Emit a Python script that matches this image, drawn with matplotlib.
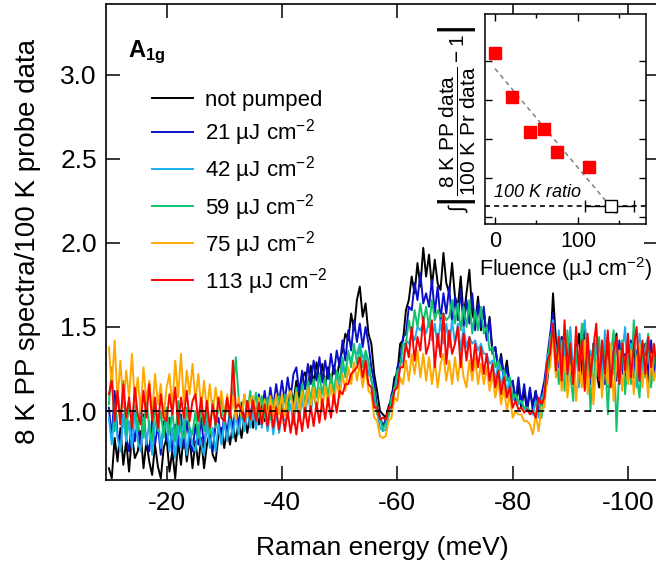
import numpy as np
import matplotlib
matplotlib.use('Agg')
import matplotlib.pyplot as plt

plt.rcParams['font.family'] = ['Liberation Sans', 'DejaVu Sans']
plt.rcParams['mathtext.fontset'] = 'custom'
plt.rcParams['mathtext.rm'] = 'Liberation Sans'
plt.rcParams['mathtext.it'] = 'Liberation Sans:italic'
plt.rcParams['mathtext.bf'] = 'Liberation Sans:bold'
plt.rcParams['axes.unicode_minus'] = False

# ---------------- data ----------------
energy = np.linspace(-10, -105, 191)  # Raman energy grid (meV), 0.5 meV steps

not_pumped = [
    0.66, 0.60, 0.84, 0.70, 0.90, 0.68, 0.82, 0.64, 0.86, 0.72,
    0.76, 0.88, 0.66, 0.82, 0.70, 0.62, 0.80, 0.67, 0.60, 0.78,
    0.84, 0.64, 0.76, 0.60, 0.82, 0.68, 0.88, 0.70, 0.84, 0.66,
    0.82, 0.68, 0.84, 0.66, 0.80, 0.88, 0.74, 0.70, 0.86, 0.90,
    0.78, 0.90, 0.80, 0.92, 0.82, 0.94, 0.84, 0.97, 0.87, 0.99,
    0.90, 1.01, 0.92, 1.03, 0.94, 1.06, 0.96, 1.07, 0.98, 1.09,
    1.00, 1.10, 1.01, 1.13, 1.05, 1.18, 1.08, 1.20, 1.23, 1.13,
    1.27, 1.16, 1.29, 1.18, 1.28, 1.15, 1.26, 1.17, 1.27, 1.19,
    1.30, 1.36, 1.46, 1.42, 1.58, 1.48, 1.66, 1.74, 1.56, 1.64,
    1.46, 1.40, 1.22, 1.12, 1.00, 0.98, 0.96, 1.03, 1.07, 1.20,
    1.22, 1.40, 1.42, 1.60, 1.66, 1.80, 1.70, 1.88, 1.74, 1.97,
    1.80, 1.93, 1.74, 1.90, 1.76, 1.72, 1.94, 1.76, 1.70, 1.88,
    1.68, 1.62, 1.80, 1.56, 1.70, 1.84, 1.58, 1.52, 1.68, 1.48,
    1.60, 1.44, 1.56, 1.36, 1.38, 1.24, 1.34, 1.20, 1.30, 1.16,
    1.18, 1.06, 1.14, 1.02, 1.12, 1.00, 1.12, 1.03, 1.12, 1.02,
    1.08, 1.10, 1.18, 1.35, 1.70, 1.42, 1.26, 1.44, 1.22, 1.38,
    1.40, 1.16, 1.34, 1.46, 1.21, 1.52, 1.28, 1.18, 1.40, 1.24,
    1.14, 1.36, 1.22, 1.44, 1.18, 1.32, 1.46, 1.20, 1.34, 1.16,
    1.38, 1.22, 1.44, 1.18, 1.34, 1.24, 1.40, 1.16, 1.36, 1.28,
    1.24]

f21 = [
    1.02, 0.84, 1.12, 0.86, 0.78, 0.98, 0.84, 0.76, 0.96, 0.82,
    0.94, 0.78, 0.98, 0.82, 0.76, 0.95, 0.80, 0.92, 0.74, 0.94,
    0.82, 0.96, 0.76, 0.92, 0.80, 0.98, 0.78, 0.94, 0.82, 0.76,
    0.92, 0.80, 0.96, 0.78, 0.94, 0.82, 0.76, 0.92, 0.96, 0.82,
    0.98, 0.86, 1.01, 0.89, 1.03, 0.91, 1.05, 0.93, 1.06, 0.96,
    1.08, 0.95, 1.10, 0.98, 1.12, 1.00, 1.14, 1.02, 1.16, 1.05,
    1.18, 1.06, 1.20, 1.08, 1.22, 1.26, 1.11, 1.24, 1.13, 1.28,
    1.16, 1.30, 1.18, 1.32, 1.17, 1.30, 1.19, 1.34, 1.22, 1.36,
    1.26, 1.42, 1.30, 1.48, 1.36, 1.54, 1.41, 1.52, 1.38, 1.50,
    1.40, 1.26, 1.17, 1.02, 0.97, 0.91, 0.95, 0.99, 1.10, 1.14,
    1.26, 1.30, 1.44, 1.46, 1.62, 1.60, 1.76, 1.66, 1.82, 1.64,
    1.70, 1.62, 1.78, 1.58, 1.74, 1.54, 1.70, 1.58, 1.74, 1.52,
    1.68, 1.54, 1.72, 1.50, 1.66, 1.52, 1.70, 1.48, 1.64, 1.50,
    1.62, 1.42, 1.54, 1.34, 1.38, 1.24, 1.32, 1.18, 1.26, 1.14,
    1.18, 1.06, 1.20, 1.04, 1.16, 1.02, 1.14, 1.00, 1.12, 0.98,
    1.10, 1.18, 1.32, 1.46, 1.58, 1.34, 1.26, 1.44, 1.20, 1.38,
    1.28, 1.18, 1.42, 1.24, 1.48, 1.20, 1.36, 1.16, 1.40, 1.26,
    1.20, 1.38, 1.16, 1.44, 1.24, 1.36, 1.18, 1.42, 1.22, 1.34,
    1.24, 1.42, 1.20, 1.36, 1.18, 1.40, 1.26, 1.22, 1.42, 1.20,
    1.34]

f42 = [
    0.96, 0.80, 1.02, 0.84, 0.76, 0.98, 0.82, 0.94, 0.78, 1.00,
    0.82, 0.76, 0.96, 0.80, 0.94, 0.74, 0.92, 0.98, 0.78, 0.90,
    0.94, 0.76, 0.90, 0.72, 0.92, 0.78, 0.96, 0.74, 0.90, 0.80,
    0.76, 0.92, 0.80, 0.74, 0.94, 0.78, 0.90, 0.76, 0.92, 0.80,
    0.94, 0.82, 0.96, 0.84, 0.99, 0.86, 1.00, 0.88, 1.02, 0.90,
    1.01, 0.89, 1.03, 0.90, 1.02, 0.88, 1.00, 0.86, 0.99, 0.87,
    0.98, 0.94, 0.97, 1.04, 0.92, 1.06, 0.94, 1.08, 0.96, 1.10,
    0.99, 1.12, 1.01, 1.14, 1.03, 1.16, 1.05, 1.18, 1.08, 1.22,
    1.12, 1.26, 1.22, 1.34, 1.30, 1.36, 1.34, 1.40, 1.32, 1.34,
    1.22, 1.20, 1.06, 1.00, 0.90, 0.88, 0.89, 0.98, 1.02, 1.14,
    1.16, 1.28, 1.30, 1.42, 1.40, 1.46, 1.42, 1.50, 1.48, 1.52,
    1.46, 1.54, 1.42, 1.52, 1.38, 1.54, 1.40, 1.52, 1.38, 1.54,
    1.40, 1.52, 1.36, 1.50, 1.38, 1.44, 1.40, 1.42, 1.36, 1.40,
    1.34, 1.34, 1.28, 1.30, 1.18, 1.28, 1.14, 1.24, 1.10, 1.20,
    1.06, 1.10, 1.04, 1.06, 1.01, 1.02, 1.00, 0.98, 1.06, 0.96,
    1.08, 1.10, 1.32, 1.38, 1.54, 1.26, 1.48, 1.20, 1.40, 1.16,
    1.50, 1.22, 1.38, 1.14, 1.44, 1.54, 1.20, 1.36, 1.12, 1.42,
    1.24, 1.18, 1.48, 1.14, 1.38, 1.22, 1.44, 1.16, 1.34, 1.50,
    1.18, 1.40, 1.24, 1.14, 1.46, 1.22, 1.38, 1.44, 1.16, 1.36,
    1.24]

f59 = [
    1.04, 1.26, 0.88, 1.12, 0.92, 1.18, 0.86, 1.06, 0.90, 1.10,
    0.88, 1.02, 0.84, 1.08, 0.90, 0.82, 1.04, 0.88, 1.00, 0.84,
    1.02, 0.86, 1.00, 0.82, 1.06, 0.88, 0.84, 1.02, 0.90, 0.86,
    1.00, 0.84, 1.04, 0.88, 1.00, 0.86, 1.06, 0.90, 1.02, 1.08,
    0.92, 1.06, 0.94, 1.10, 1.32, 1.08, 0.96, 1.10, 0.98, 1.12,
    0.99, 1.11, 0.97, 1.09, 0.96, 1.08, 0.95, 1.07, 0.97, 1.09,
    0.98, 1.10, 0.99, 1.12, 1.00, 1.14, 1.02, 1.16, 1.04, 1.18,
    1.06, 1.19, 1.08, 1.22, 1.10, 1.20, 1.08, 1.22, 1.11, 1.24,
    1.18, 1.32, 1.20, 1.36, 1.26, 1.40, 1.28, 1.38, 1.26, 1.36,
    1.30, 1.18, 1.12, 0.98, 0.96, 0.89, 0.93, 0.97, 1.08, 1.12,
    1.24, 1.26, 1.40, 1.40, 1.54, 1.44, 1.60, 1.50, 1.64, 1.52,
    1.62, 1.50, 1.66, 1.54, 1.60, 1.56, 1.58, 1.54, 1.56, 1.66,
    1.52, 1.64, 1.48, 1.62, 1.50, 1.66, 1.46, 1.60, 1.48, 1.62,
    1.46, 1.50, 1.36, 1.38, 1.26, 1.30, 1.24, 1.24, 1.18, 1.20,
    1.08, 1.10, 1.06, 1.06, 1.02, 1.02, 1.00, 1.00, 0.96, 1.08,
    0.96, 1.14, 1.20, 1.44, 1.48, 1.36, 1.16, 1.42, 1.12, 1.48,
    1.22, 1.06, 1.38, 1.18, 1.52, 1.14, 1.34, 1.00, 1.40, 1.20,
    1.44, 1.12, 1.36, 0.98, 1.32, 1.48, 0.88, 1.26, 1.42, 1.10,
    1.34, 1.16, 1.54, 1.22, 1.08, 1.40, 1.20, 1.46, 1.14, 1.34,
    1.22]

f75 = [
    1.38, 1.14, 1.42, 1.06, 1.30, 1.02, 1.24, 1.08, 1.34, 1.04,
    1.20, 1.00, 1.26, 1.06, 1.18, 0.98, 1.22, 1.04, 1.16, 0.96,
    1.14, 1.22, 1.02, 1.30, 1.08, 1.34, 1.04, 1.24, 1.10, 1.28,
    1.06, 1.22, 1.02, 1.18, 1.00, 1.16, 0.98, 1.14, 1.01, 1.12,
    0.98, 1.10, 0.96, 1.09, 0.95, 1.08, 0.97, 1.10, 0.96, 1.07,
    1.09, 0.96, 1.08, 0.94, 1.07, 0.96, 1.09, 0.97, 1.10, 0.98,
    1.10, 0.97, 1.09, 1.12, 0.98, 1.11, 0.99, 1.12, 1.00, 1.14,
    1.02, 1.14, 1.00, 1.13, 1.01, 1.15, 1.03, 1.16, 1.04, 1.18,
    1.08, 1.22, 1.12, 1.26, 1.16, 1.29, 1.18, 1.28, 1.14, 1.26,
    1.12, 1.10, 0.96, 0.94, 0.85, 0.84, 0.85, 0.94, 0.96, 1.08,
    1.06, 1.20, 1.16, 1.30, 1.18, 1.34, 1.22, 1.36, 1.20, 1.34,
    1.18, 1.32, 1.16, 1.30, 1.14, 1.28, 1.34, 1.18, 1.30, 1.16,
    1.32, 1.18, 1.34, 1.20, 1.14, 1.30, 1.18, 1.32, 1.16, 1.28,
    1.16, 1.26, 1.12, 1.22, 1.08, 1.18, 1.04, 1.14, 1.00, 1.10,
    0.96, 1.00, 0.98, 0.98, 0.94, 0.94, 0.92, 0.86, 0.98, 0.88,
    1.02, 1.02, 1.22, 1.26, 1.46, 1.20, 1.38, 1.12, 1.32, 1.08,
    1.26, 1.30, 1.06, 1.30, 1.14, 1.42, 1.10, 1.32, 1.04, 1.28,
    1.34, 1.08, 1.30, 1.16, 1.40, 1.06, 1.28, 1.36, 1.12, 1.32,
    1.16, 1.36, 1.10, 1.30, 1.40, 1.14, 1.32, 1.08, 1.34, 1.18,
    1.28]

f113 = [
    1.10, 1.18, 0.94, 1.12, 0.92, 1.16, 0.96, 1.08, 0.90, 1.14,
    0.98, 0.92, 1.12, 0.96, 1.16, 0.94, 1.08, 0.90, 1.10, 0.96,
    0.94, 1.10, 0.98, 1.14, 0.92, 1.08, 0.96, 1.12, 0.94, 1.06,
    1.10, 0.94, 1.08, 0.92, 1.06, 0.90, 1.04, 0.92, 1.08, 0.96,
    0.94, 1.08, 0.96, 1.30, 1.02, 1.04, 1.00, 0.94, 1.06, 0.95,
    1.06, 0.94, 1.05, 0.92, 1.04, 0.91, 1.03, 0.90, 1.02, 0.89,
    1.01, 0.88, 1.00, 0.87, 0.99, 0.86, 1.00, 0.88, 1.02, 0.90,
    1.03, 0.91, 1.05, 0.93, 1.07, 0.95, 1.08, 0.96, 1.10, 0.99,
    1.12, 1.10, 1.16, 1.16, 1.22, 1.24, 1.26, 1.32, 1.20, 1.30,
    1.16, 1.14, 1.02, 1.02, 0.95, 0.96, 0.95, 1.02, 1.02, 1.12,
    1.14, 1.26, 1.26, 1.40, 1.32, 1.50, 1.30, 1.44, 1.36, 1.56,
    1.34, 1.40, 1.54, 1.26, 1.46, 1.32, 1.58, 1.28, 1.48, 1.34,
    1.40, 1.50, 1.26, 1.46, 1.30, 1.44, 1.24, 1.40, 1.26, 1.38,
    1.22, 1.34, 1.18, 1.28, 1.14, 1.24, 1.10, 1.20, 1.08, 1.14,
    1.02, 1.06, 1.01, 1.02, 0.99, 1.01, 0.98, 1.00, 0.96, 1.08,
    1.04, 1.08, 1.30, 1.34, 1.52, 1.24, 1.44, 1.18, 1.54, 1.22,
    1.40, 1.16, 1.50, 1.24, 1.42, 1.12, 1.46, 1.20, 1.38, 1.52,
    1.18, 1.42, 1.22, 1.48, 1.14, 1.36, 1.44, 1.16, 1.40, 1.24,
    1.46, 1.20, 1.38, 1.50, 1.18, 1.42, 1.22, 1.44, 1.26, 1.40,
    1.24]

series_labels = ['not pumped', r'21 µJ cm$^{-2}$', r'42 µJ cm$^{-2}$',
                 r'59 µJ cm$^{-2}$', r'75 µJ cm$^{-2}$', r'113 µJ cm$^{-2}$']
series_colors = ['#000000', '#0a10c8', '#1ab0f0', '#10c46c', '#ffa800', '#ff0000']
series_values = [not_pumped, f21, f42, f59, f75, f113]

x_ticks = [-20, -40, -60, -80, -100]
y_ticks = [1.0, 1.5, 2.0, 2.5, 3.0]

# inset data
fluence = [0, 21, 42, 59, 75, 113]
integral = [4.22, 3.08, 2.19, 2.25, 1.67, 1.29]
fit_x = [0, 149]
fit_y = [3.81, 0.02]
ratio_x = 139.6
ratio_y = 0.29
ratio_xerr_lo = 30.6
ratio_xerr_hi = 27.4

# ---------------- figure ----------------
fig = plt.figure(figsize=(6.56, 5.69), dpi=100)
ax = fig.add_axes([106/656, 1 - 480/569, 552/656, 476/569])

for vals, lab, col in zip(series_values, series_labels, series_colors):
    ax.plot(energy, vals, color=col, lw=1.4, label=lab)

ax.axhline(1.0, color='k', lw=1.2, ls=(0, (4, 3)), zorder=5)

ax.set_xlim(-9.5, -105.2)
ax.set_ylim(0.59, 3.42)
ax.set_xticks(x_ticks)
ax.set_yticks(y_ticks)
ax.set_yticklabels([f'{v:.1f}' for v in y_ticks])
ax.tick_params(direction='in', length=10, width=1.1, top=True, right=True,
               labelsize=19)
ax.tick_params(axis='x', pad=8)
ax.tick_params(axis='y', pad=6.5)
for s in ax.spines.values():
    s.set_linewidth(1.2)
ax.set_xlabel('Raman energy (meV)', fontsize=19, labelpad=15)
ax.set_ylabel('8 K PP spectra/100 K probe data', fontsize=20, labelpad=14)

ax.text(0.04, 0.889, r'$\mathbf{A_{1g}}$', transform=ax.transAxes,
        fontsize=17, ha='left', va='baseline')

ax.legend(loc='upper left', bbox_to_anchor=(0.083, 0.819), frameon=False,
          fontsize=16, handlelength=1.85, handletextpad=0.55,
          labelspacing=0.28, borderpad=0, borderaxespad=0)

# ---------------- inset ----------------
axi = fig.add_axes([485/656, 1 - 224/569, 161/656, 210/569])
axi.plot(fit_x, fit_y, color='#808080', lw=1.1, ls=(0, (3, 2.5)))
axi.axhline(ratio_y, color='k', lw=1.2, ls=(0, (3, 2.5)))
axi.errorbar([ratio_x], [ratio_y], xerr=[[ratio_xerr_lo], [ratio_xerr_hi]],
             fmt='s', mfc='white', mec='k', mew=1.0, ms=8, ecolor='k',
             elinewidth=1.0, capsize=4, capthick=1.0, zorder=4)
axi.plot(fluence, integral, 's', color='#ff0000', ms=8, zorder=5)
axi.text(-1, 0.42, '100 K ratio', style='italic', fontsize=13,
         ha='left', va='bottom')
axi.set_xlim(-12, 182)
axi.set_ylim(-0.18, 5.21)
axi.set_xticks([0, 100])
axi.set_xticks([50, 150], minor=True)
axi.set_yticks([0, 1, 2, 3, 4])
axi.tick_params(direction='in', length=5, width=1.0, top=True, right=True,
                labelleft=False, labelsize=15.5, pad=5)
axi.tick_params(which='minor', direction='in', length=3, width=1.0, top=True)
for s in axi.spines.values():
    s.set_linewidth(1.1)
axi.set_xlabel(r'Fluence (µJ cm$^{-2}$)', fontsize=15.5, labelpad=2)
axi.set_ylabel(r'$\int\left|\dfrac{\mathrm{8\ K\ PP\ data}}{\mathrm{100\ K\ Pr\ data}}-1\right|$',
               fontsize=15, labelpad=5)

fig.savefig('out.png', dpi=100)
